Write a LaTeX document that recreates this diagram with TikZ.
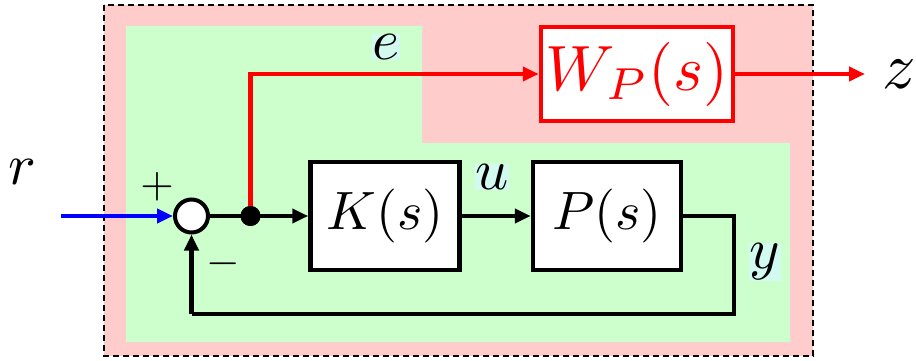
\documentclass[tikz,border=0pt]{standalone}
\usepackage{graphicx}
\usetikzlibrary{arrows.meta}
\definecolor{pinkbg}{RGB}{255,204,204}
\definecolor{greenbg}{RGB}{204,255,204}
\definecolor{lblbg}{RGB}{210,250,240}
\newcommand{\bigtxt}[2]{\scalebox{#1}{#2}}
\begin{document}
\begin{tikzpicture}[x=1pt,y=-1pt,
  wire/.style={line width=4.2pt},
  tip/.style={-{Triangle[length=16pt,width=14pt]}},
  blk/.style={draw=black,line width=4.5pt,fill=white,inner sep=0pt},
  lbl/.style={inner sep=0pt},
  sig/.style={fill=lblbg,inner sep=0.5pt},
  sgn/.style={inner sep=0pt}]
\useasboundingbox (0,0) rectangle (916,361);
\fill[pinkbg] (104,5) rectangle (813,356);
\draw[line width=1.7pt,dash pattern=on 6pt off 4pt] (104,5) rectangle (813,356);
\fill[greenbg] (126,26) -- (422,26) -- (422,143) -- (790,143) -- (790,342) -- (126,342) -- cycle;
% blocks
\node[blk,minimum width=149pt,minimum height=108pt] (K) at (385,216) {\bigtxt{5.4}{$K(s)$}};
\node[blk,minimum width=148pt,minimum height=108pt] (P) at (607,216) {\bigtxt{5.4}{$P(s)$}};
\node[blk,draw=red,text=red,minimum width=192pt,minimum height=94pt] (W) at (637,74) {\bigtxt{6.4}{$W_P(s)$}};
\node[circle,draw=black,line width=4pt,fill=white,minimum size=33pt,inner sep=0pt] (sum) at (191.5,216) {};
\node[circle,fill=black,minimum size=20pt,inner sep=0pt] (dot) at (250.5,216) {};
% coordinates
\coordinate (rin) at (61,216);
\coordinate (zout) at (865,74);
\coordinate (c1) at (734,216);
\coordinate (c2) at (734,314);
\coordinate (c3) at (191.5,314);
% connectors
\draw[wire,blue,tip] (rin) -- (sum.west);
\draw[wire] (sum.east) -- (dot.center);
\draw[wire,tip] (dot.center) -- (K.west);
\draw[wire,tip] (K.east) -- (P.west);
\draw[wire,line join=miter] (P.east) -- (c1) -- (c2) -- (c3);
\draw[wire,tip] (c3) -- (sum.south);
\draw[wire,red,tip] (dot.center) |- (W.west);
\draw[wire,red,tip] (W.east) -- (zout);
\node[circle,fill=black,minimum size=20pt,inner sep=0pt] (dot2) at (dot) {};
% labels
\node[lbl] (r) at (22,172) {\bigtxt{5.8}{$r$}};
\node[lbl] (z) at (899,74) {\bigtxt{6.6}{$z$}};
\node[sig] (e) at (386,47) {\bigtxt{5.8}{$e$}};
\node[sig] (u) at (492,177) {\bigtxt{5.8}{$u$}};
\node[sig] (y) at (765,262) {\bigtxt{5.8}{$y$}};
\node[sgn] (plus) at (157,187) {\bigtxt{4.3}{$+$}};
\node[sgn] (minus) at (223,264) {\bigtxt{4.3}{$-$}};
\end{tikzpicture}
\end{document}
